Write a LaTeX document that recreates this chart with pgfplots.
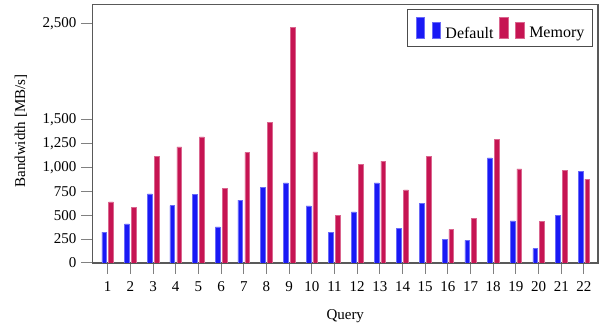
\documentclass[border=0pt]{standalone}
\usepackage{fontspec}
\setmainfont{Liberation Serif}
\usepackage{pgfplots}
\pgfplotsset{compat=1.18}
\definecolor{cblue}{RGB}{25,25,245}
\definecolor{cred}{RGB}{198,20,82}
\newcommand{\lstrut}{\rule[-8.3pt]{0pt}{16.6pt}}
\begin{document}
\fontsize{15}{18}\selectfont
\begin{tikzpicture}
\begin{axis}[
  scale only axis,
  width=505.5pt, height=258.7pt,
  xmin=0.33, xmax=22.62, ymin=0, ymax=2700,
  xtick={1,...,22},
  ytick={0,250,500,750,1000,1250,1500,2500},
  scaled y ticks=false,
  /pgf/number format/assume math mode=true,
  yticklabel style={/pgf/number format/.cd,1000 sep={,}},
  xticklabel style={yshift=-2pt},
  tick align=outside,
  major tick length=11pt,
  xtick pos=bottom, ytick pos=left,
  tick style={gray, line width=1pt},
  axis line style={black!65, line width=1.3pt},
  ybar, bar width=0.21,
  xlabel={Query}, ylabel={Bandwidth [MB/s]},
  every axis x label/.style={at={(axis description cs:0.5,-0.205)},anchor=center},
  every axis y label/.style={at={(axis description cs:-0.1414,0.51)},rotate=90,anchor=center},
  legend columns=2,
  legend style={at={(rel axis cs:0.990,0.981)}, anchor=north east, draw=black!70, line width=1.2pt,
    font=\fontsize{16}{19}\selectfont, inner xsep=8pt, inner ysep=5.7pt,
    nodes={inner xsep=0pt, inner ysep=0pt},
    /tikz/every odd column/.append style={column sep=5pt},
    /tikz/every even column/.append style={column sep=6pt}},
  legend image code/.code={%
    \draw[#1] (0pt,-4.2pt) rectangle (8.3pt,16.5pt);
    \draw[#1] (16pt,-4.2pt) rectangle (24.3pt,11.5pt);
    \path[draw=none,fill=none] (0pt,0pt) -- (0pt,18.3pt);},
]
\addplot[fill=cblue, draw=cblue!65!white, line width=0.5pt, bar shift=-0.15] coordinates {
(1,321) (2,408) (3,722) (4,600) (5,715) (6,377) (7,656) (8,788) (9,837) (10,596) (11,321)
(12,533) (13,837) (14,359) (15,624) (16,248) (17,237) (18,1098) (19,439) (20,150) (21,499) (22,955)};
\addplot[fill=cred, draw=cred!65!white, line width=0.5pt, bar shift=0.15] coordinates {
(1,638) (2,582) (3,1109) (4,1213) (5,1315) (6,781) (7,1154) (8,1464) (9,2461) (10,1161) (11,499)
(12,1032) (13,1063) (14,764) (15,1109) (16,352) (17,467) (18,1294) (19,983) (20,432) (21,969) (22,875)};
\legend{\lstrut Default, \lstrut Memory\hspace{10pt}}
\end{axis}
\path ([shift={(-92.5pt,-68pt)}]current axis.south west) rectangle ([shift={(1pt,4.3pt)}]current axis.north east);
\end{tikzpicture}
\end{document}
